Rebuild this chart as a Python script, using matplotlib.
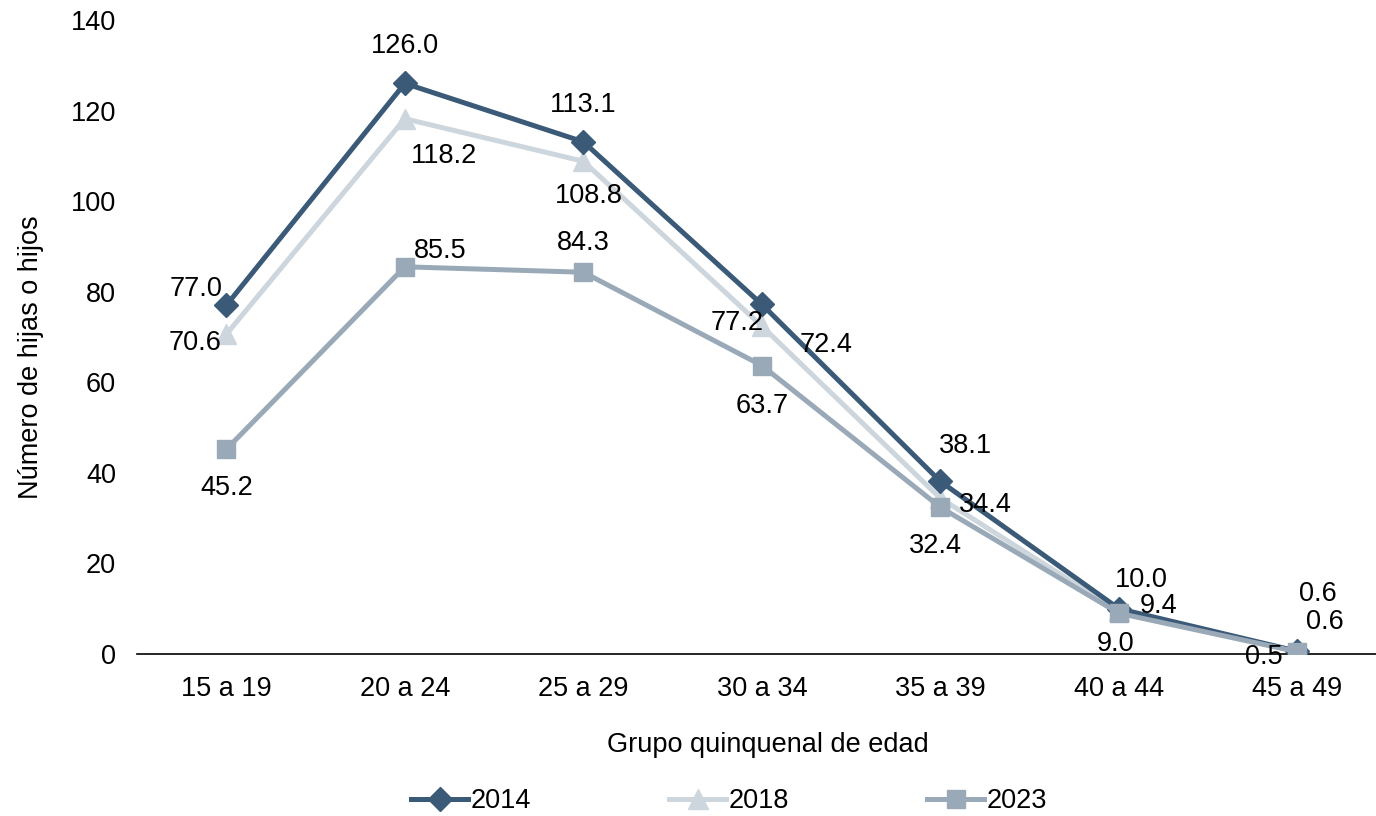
import matplotlib.pyplot as plt
from matplotlib.lines import Line2D

plt.rcParams['font.family'] = ['Liberation Sans', 'DejaVu Sans']

groups = ["15 a 19", "20 a 24", "25 a 29", "30 a 34", "35 a 39", "40 a 44", "45 a 49"]
v2014 = [77.0, 126.0, 113.1, 77.2, 38.1, 10.0, 0.6]
v2018 = [70.6, 118.2, 108.8, 72.4, 34.4, 9.4, 0.6]
v2023 = [45.2, 85.5, 84.3, 63.7, 32.4, 9.0, 0.5]

c2014 = "#3b5a78"
c2018 = "#cdd5dd"
c2023 = "#9aa9b8"

# label offsets in pixels (dx, dy), dy up positive
off2014 = [(-30, 16), (0, 37), (0, 37), (-25, -19), (25, 35), (22, 29), (20, 57)]
off2018 = [(-31, -9), (39, -37), (5, -35), (64, -19), (45, -7), (40, 5), (27, 29)]
off2023 = [(0, -39), (35, 16), (0, 29), (0, -40), (-5, -39), (-3, -31), (-34, -5)]

FS = 19.5
LW = 3.6

fig = plt.figure(figsize=(13.76, 8.16), dpi=100)
ax = fig.add_axes([0.0996, 0.1985, 0.9004, 0.777])

x = list(range(len(groups)))
ax.plot(x, v2018, color=c2018, lw=LW, marker="^", ms=14, zorder=2)
ax.plot(x, v2014, color=c2014, lw=LW, marker="D", ms=12, zorder=3)
ax.plot(x, v2023, color=c2023, lw=LW, marker="s", ms=13, zorder=4)

for vals, offs in [(v2014, off2014), (v2018, off2018), (v2023, off2023)]:
    for xi, v, (dx, dy) in zip(x, vals, offs):
        ax.annotate(f"{v:.1f}", (xi, v), xytext=(dx * 0.72, dy * 0.72),
                    textcoords="offset points", ha="center", va="center",
                    fontsize=FS, color="black", zorder=5)

ax.set_xlim(-0.5, 6.44)
ax.set_ylim(0, 140)
ax.set_yticks(range(0, 141, 20))
ax.set_xticks(x)
ax.set_xticklabels(groups)
ax.tick_params(axis="both", length=0, labelsize=FS, colors="black")
ax.tick_params(axis="x", pad=16)
ax.tick_params(axis="y", pad=15)
for s in ["top", "right", "left"]:
    ax.spines[s].set_visible(False)
ax.spines["bottom"].set_color("black")
ax.spines["bottom"].set_linewidth(1.2)

ax.set_xlabel("Grupo quinquenal de edad", fontsize=FS)
ax.set_ylabel("Número de hijas o hijos", fontsize=FS)
ax.xaxis.set_label_coords(0.509, -0.123)
ax.yaxis.set_label_coords(-0.075, 0.468)

handles = [
    Line2D([], [], color=c2014, lw=LW, marker="D", ms=12),
    Line2D([], [], color=c2018, lw=LW, marker="^", ms=14),
    Line2D([], [], color=c2023, lw=LW, marker="s", ms=13),
]
fig.legend(handles, ["2014", "2018", "2023"], loc="center", bbox_to_anchor=(0.530, 0.018),
           ncol=3, frameon=False, fontsize=FS, handlelength=2.1, handletextpad=0.1,
           columnspacing=5.1)

fig.savefig("out.png", dpi=100)
